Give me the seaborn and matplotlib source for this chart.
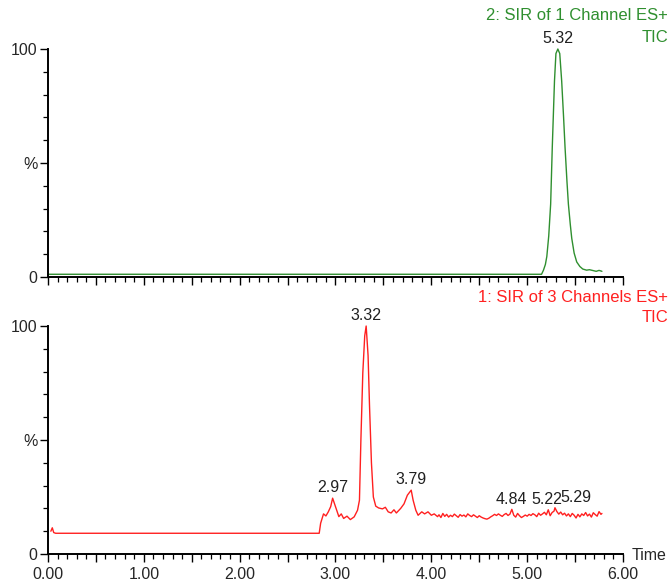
import numpy as np
import pandas as pd
import matplotlib
matplotlib.use("Agg")
import matplotlib.pyplot as plt
import seaborn as sns

# ---------------- data ----------------
green_t = [0.00, 5.15, 5.17, 5.19, 5.205, 5.225, 5.245, 5.262, 5.285, 5.30, 5.32,
           5.34, 5.36, 5.38, 5.395, 5.415, 5.43, 5.45, 5.465, 5.49, 5.517, 5.55,
           5.58, 5.62, 5.65, 5.69, 5.72, 5.75, 5.78]
green_v = [1.2, 1.2, 3.0, 5.5, 9.0, 18, 32, 57, 86, 98, 100,
           98, 86, 70, 57, 42, 32, 23, 17, 10.5, 6.6, 4.6,
           3.5, 3.0, 3.2, 2.8, 2.5, 2.9, 2.5]

red_t = [0.03, 0.045, 0.06, 0.08, 2.83,
         2.845, 2.875, 2.90, 2.925, 2.95, 2.97, 3.00, 3.035, 3.06, 3.085, 3.12,
         3.155, 3.195, 3.23, 3.25, 3.265, 3.285, 3.305, 3.32, 3.34, 3.355, 3.375,
         3.395, 3.42, 3.45, 3.49, 3.52, 3.55, 3.58, 3.61, 3.635, 3.68, 3.715,
         3.75, 3.79, 3.81, 3.838, 3.862, 3.90, 3.93, 3.965, 4.00, 4.03, 4.065,
         4.08, 4.10, 4.12, 4.14, 4.16, 4.18, 4.20, 4.22, 4.24, 4.26, 4.28, 4.30,
         4.32, 4.34, 4.36, 4.38, 4.40, 4.42, 4.44, 4.46, 4.48, 4.50, 4.52, 4.54,
         4.56, 4.58, 4.60, 4.62, 4.64, 4.66, 4.68, 4.70, 4.72, 4.74, 4.76, 4.78,
         4.80, 4.82, 4.84, 4.86, 4.88, 4.90, 4.92, 4.94, 4.96, 4.98, 5.00, 5.02,
         5.04, 5.06, 5.08, 5.10, 5.12, 5.14, 5.16, 5.18, 5.20, 5.22, 5.24, 5.26,
         5.28, 5.29, 5.31, 5.33, 5.35, 5.37, 5.39, 5.41, 5.43, 5.45, 5.47, 5.49,
         5.51, 5.53, 5.55, 5.57, 5.59, 5.61, 5.63, 5.65, 5.67, 5.69, 5.71, 5.73,
         5.75, 5.77, 5.78]
red_v = [10.0, 11.5, 9.4, 9.1, 9.1,
         13.5, 17.6, 16.7, 18.5, 20.8, 24.5, 20.8, 16.4, 17.6, 15.6, 16.6,
         15.1, 16.3, 19.2, 23.6, 50.0, 79.5, 95.7, 100.0, 87.0, 65.0, 40.0,
         25.0, 21.0, 20.2, 19.8, 20.5, 18.5, 18.0, 19.4, 18.0, 20.0, 22.0,
         25.8, 28.0, 23.6, 19.2, 17.0, 18.5, 17.6, 18.5, 17.0, 17.6, 16.4,
         17.2, 16.0, 17.8, 16.5, 17.4, 16.2, 17.0, 16.4, 17.5, 16.8, 16.1, 17.3,
         16.6, 17.1, 16.3, 17.6, 16.9, 16.4, 17.2, 16.6, 16.0, 16.8, 16.2, 15.8,
         15.5, 15.3, 15.7, 16.3, 16.8, 17.4, 16.9, 17.6, 17.0, 16.5, 17.3, 17.8,
         16.9, 17.5, 19.6, 17.0, 16.2, 17.8, 16.8, 16.0, 16.5, 17.1, 16.6, 17.4,
         16.9, 17.7, 17.2, 16.4, 17.9, 17.0, 17.6, 18.3, 17.2, 19.4, 16.8, 18.2,
         18.8, 20.3, 18.6, 17.5, 18.4, 17.2, 17.9, 16.7, 17.6, 16.4, 17.8, 17.0,
         15.8, 17.4, 16.3, 17.6, 16.9, 18.2, 16.7, 17.5, 16.2, 18.1, 17.3, 16.6,
         18.6, 17.4, 17.8]

green_peaks = [5.32]
green_peak_labels = ["5.32"]
red_peaks = [2.97, 3.32, 3.79, 4.84, 5.22, 5.29]
red_peak_labels = ["2.97", "3.32", "3.79", "4.84", "5.22", "5.29"]
red_label_shift_pt = [0, 0, 0, 0, -1, 15]

x_major = [0, 0.5, 1, 1.5, 2, 2.5, 3, 3.5, 4, 4.5, 5, 5.5, 6]
x_major_labels = ["0.00", "", "1.00", "", "2.00", "", "3.00", "", "4.00", "", "5.00", "", "6.00"]
y_major = [0, 50, 100]
y_major_labels = ["0", "%", "100"]

top_title = "2: SIR of 1 Channel ES+"
bot_title = "1: SIR of 3 Channels ES+"
sub_title = "TIC"

GREEN = "#2f8f2f"
RED = "#ff2020"
FS = 11.5
FS_TITLE = 12

# ---------------- style ----------------
sns.set_theme(style="white")
plt.rcParams['font.family'] = ['Liberation Sans', 'DejaVu Sans']
plt.rcParams['font.size'] = FS

fig = plt.figure(figsize=(6.72, 5.80), dpi=100)
ax_top = fig.add_axes([0.0714, 0.5224, 0.8557, 0.3931])
ax_bot = fig.add_axes([0.0714, 0.0448, 0.8557, 0.3931])

df_g = pd.DataFrame({"t": green_t, "v": green_v})
df_r = pd.DataFrame({"t": red_t, "v": red_v})
sns.lineplot(data=df_g, x="t", y="v", ax=ax_top, color=GREEN, linewidth=1.0,
             estimator=None, sort=False)
sns.lineplot(data=df_r, x="t", y="v", ax=ax_bot, color=RED, linewidth=1.0,
             estimator=None, sort=False)

for ax in (ax_top, ax_bot):
    ax.set_xlim(0, 6)
    ax.set_ylim(0, 100)
    for ln in ax.lines:
        ln.set_clip_on(False)
    ax.set_xlabel("")
    ax.set_ylabel("")
    ax.spines['top'].set_visible(False)
    ax.spines['right'].set_visible(False)
    for s in ('left', 'bottom'):
        ax.spines[s].set_color('black')
        ax.spines[s].set_linewidth(1.4)
    ax.spines['left'].set_bounds(0, 100)
    ax.set_xticks(x_major)
    ax.set_xticks(np.arange(0, 6.001, 0.1), minor=True)
    ax.set_yticks(y_major)
    ax.set_yticks(np.arange(0, 100.1, 10), minor=True)
    ax.set_yticklabels(y_major_labels)
    ax.tick_params(axis='both', which='major', length=6, width=1.0, color='black',
                   direction='out', labelsize=FS, pad=1.5, bottom=True, left=True)
    ax.tick_params(axis='both', which='minor', length=3.5, width=0.9, color='black',
                   direction='out', bottom=True, left=True)
    ax.tick_params(axis='x', which='major', pad=3)

ax_top.set_xticklabels([""] * len(x_major))
ax_bot.set_xticklabels(x_major_labels)

ax_bot.annotate("Time", xy=(1, 0), xycoords='axes fraction', xytext=(6, -1),
                textcoords='offset points', ha='left', va='center', fontsize=FS)

# peak labels
for t, lab in zip(green_peaks, green_peak_labels):
    y = float(np.interp(t, green_t, green_v))
    ax_top.annotate(lab, xy=(t, y), xytext=(0, 2), textcoords='offset points',
                    ha='center', va='bottom', fontsize=FS, color='#202020')
for t, lab, dx in zip(red_peaks, red_peak_labels, red_label_shift_pt):
    y = float(np.interp(t, red_t, red_v))
    ax_bot.annotate(lab, xy=(t, y), xytext=(dx, 2), textcoords='offset points',
                    ha='center', va='bottom', fontsize=FS, color='#202020')

# channel titles
fig.text(668 / 672, 1 - 15 / 580, top_title, ha='right', va='center', color=GREEN, fontsize=FS_TITLE)
fig.text(668 / 672, 1 - 38 / 580, sub_title, ha='right', va='center', color=GREEN, fontsize=FS_TITLE)
fig.text(668 / 672, 1 - 297 / 580, bot_title, ha='right', va='center', color=RED, fontsize=FS_TITLE)
fig.text(668 / 672, 1 - 318 / 580, sub_title, ha='right', va='center', color=RED, fontsize=FS_TITLE)

fig.savefig("out.png", dpi=100)
